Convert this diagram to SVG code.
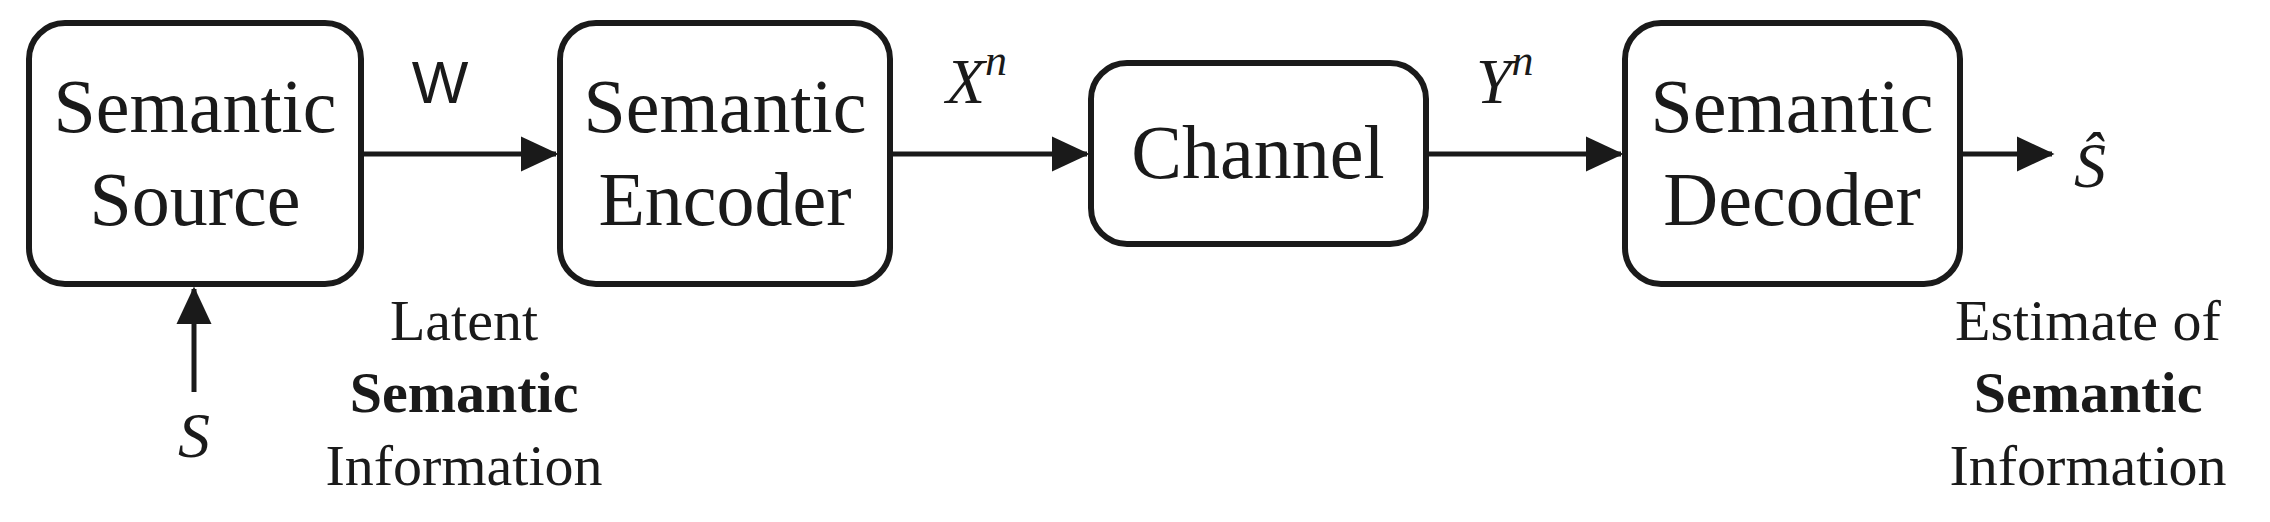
<svg xmlns="http://www.w3.org/2000/svg" width="2270" height="522" viewBox="0 0 2270 522">
<style>
.box{fill:#fff;stroke:#1a1a1a;stroke-width:6}
.t{font-family:"Liberation Serif",serif;font-size:76px;text-anchor:middle;fill:#1a1a1a}
.s{font-family:"Liberation Serif",serif;font-size:58px;text-anchor:middle;fill:#1a1a1a}
.i{font-family:"Liberation Serif",serif;font-style:italic;font-size:64px;fill:#1a1a1a}
.c{stroke:#1a1a1a;stroke-width:5;fill:none}
</style>
<defs><marker id="a" markerWidth="8" markerHeight="8" refX="7" refY="4" orient="auto" markerUnits="strokeWidth"><path d="M0,0.5 L7.5,4 L0,7.5 Z" fill="#1a1a1a"/></marker></defs>
<g id="source"><rect class="box" x="29" y="23" width="332" height="261" rx="36"/><text class="t" x="195" y="132">Semantic</text><text class="t" x="195" y="225">Source</text></g>
<g id="encoder"><rect class="box" x="560" y="23" width="330" height="261" rx="36"/><text class="t" x="725" y="132">Semantic</text><text class="t" x="725" y="225">Encoder</text></g>
<g id="channel"><rect class="box" x="1091" y="63" width="335" height="181" rx="36"/><text class="t" x="1258" y="178">Channel</text></g>
<g id="decoder"><rect class="box" x="1625" y="23" width="335" height="261" rx="36"/><text class="t" x="1792" y="132">Semantic</text><text class="t" x="1792" y="225">Decoder</text></g>
<g id="connectors">
<line class="c" x1="361" y1="154" x2="556" y2="154" marker-end="url(#a)"/>
<line class="c" x1="890" y1="154" x2="1087" y2="154" marker-end="url(#a)"/>
<line class="c" x1="1426" y1="154" x2="1621" y2="154" marker-end="url(#a)"/>
<line class="c" x1="1960" y1="154" x2="2052" y2="154" marker-end="url(#a)"/>
<line class="c" x1="194" y1="392" x2="194" y2="289" marker-end="url(#a)"/>
</g>
<g id="labels">
<text x="440" y="103" font-family="Liberation Sans,sans-serif" font-size="60" text-anchor="middle" fill="#1a1a1a">W</text>
<text class="i" x="946" y="103">X<tspan font-size="44" dy="-28">n</tspan></text>
<text class="i" x="1476" y="103">Y<tspan font-size="44" dy="-28">n</tspan></text>
<text class="i" x="178" y="457">S</text>
<text class="i" x="2074" y="187">Ŝ</text>
<text class="s" x="464" y="340">Latent</text>
<text class="s" x="464" y="412" font-weight="bold">Semantic</text>
<text class="s" x="464" y="485">Information</text>
<text class="s" x="2088" y="340">Estimate of</text>
<text class="s" x="2088" y="412" font-weight="bold">Semantic</text>
<text class="s" x="2088" y="485">Information</text>
</g>
</svg>
